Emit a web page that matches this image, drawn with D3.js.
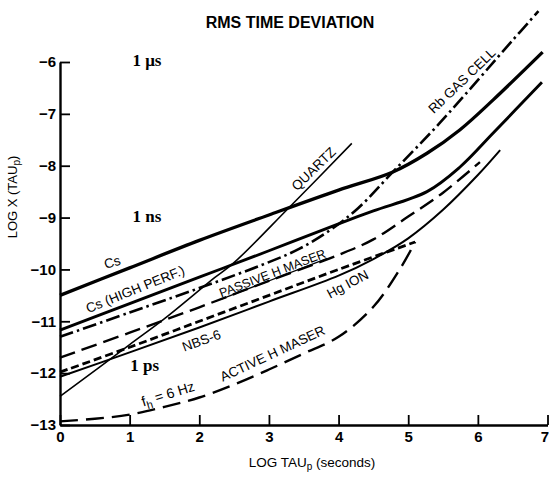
<!DOCTYPE html>
<html>
<head>
  <meta charset="utf-8">
  <title>RMS Time Deviation</title>
  <style>
    body { margin: 0; background: #fff; }
    text { font-family: "Liberation Sans", Arial, sans-serif; fill: #000; }
  </style>
</head>
<body>
<script src="https://cdnjs.cloudflare.com/ajax/libs/d3/7.8.5/d3.min.js"></script>
<div id="vis"></div>
<script>

// tick values
var xTicks = [0, 1, 2, 3, 4, 5, 6, 7];
var yTicks = [-13, -12, -11, -10, -9, -8, -7, -6];

// curves, [log tau, log x]
var cs = [[0,-10.5],[1,-9.97],[2,-9.44],[3,-8.95],[4,-8.47],[4.78,-8.12],[5.27,-7.76],[5.74,-7.31],[6.22,-6.73],[6.93,-5.81]];
var csHigh = [[0,-11.17],[1,-10.66],[2,-10.15],[3,-9.64],[4,-9.12],[4.5,-8.87],[5.27,-8.5],[5.74,-8.03],[6.22,-7.37],[6.92,-6.39]];
var rbGas = [[0,-11.3],[1,-10.83],[2,-10.36],[3,-9.86],[3.44,-9.6],[3.88,-9.24],[4.28,-8.82],[4.78,-8.12],[5.45,-7.18],[6.5,-5.58],[6.87,-5.02]];
var quartz = [[0,-12.45],[1,-11.45],[1.51,-10.94],[2.22,-10.16],[2.49,-9.88],[3.28,-8.82],[4.19,-7.57]];
var passiveH = [[0,-11.7],[1,-11.22],[2,-10.73],[3,-10.22],[4,-9.72],[4.5,-9.42],[5,-8.98],[5.5,-8.52],[6.03,-7.93]];
var nbs6 = [[0,-12.07],[1,-11.6],[2,-11.12],[3,-10.62],[4,-10.12],[4.5,-9.8],[5,-9.4],[5.5,-8.85],[6,-8.18],[6.32,-7.7]];
var hgIon = [[0,-11.98],[1,-11.5],[2,-11.0],[3,-10.5],[4,-10.0],[5.1,-9.47]];
var activeH = [[0,-12.93],[0.5,-12.88],[1,-12.8],[1.5,-12.65],[2,-12.47],[2.5,-12.22],[3,-11.93],[3.5,-11.62],[4,-11.3],[4.5,-10.72],[4.9,-9.95],[5.1,-9.47]];

var w = 549, h = 477;

var svg = d3.select("div#vis").append("svg")
  .attr("width", w)
  .attr("height", h);

var x = d3.scaleLinear().domain([0, 7]).range([60, 547.5]);
var y = d3.scaleLinear().domain([-13, -6]).range([425, 62]);

var minus = function(d) { return d < 0 ? "\u2212" + Math.abs(d) : d; };

// axes
var gx = svg.append("g")
  .attr("transform", "translate(0," + y(-13) + ")")
  .call(d3.axisBottom(x).tickValues(xTicks).tickSize(-10).tickPadding(6).tickSizeOuter(0).tickFormat(d3.format("d")));
var gy = svg.append("g")
  .attr("transform", "translate(" + x(0) + ",0)")
  .call(d3.axisLeft(y).tickValues(yTicks).tickSize(-10).tickPadding(4).tickSizeOuter(0).tickFormat(minus));

svg.selectAll(".domain").attr("stroke-width", 2.4);
svg.selectAll(".tick line").attr("stroke-width", 1.8);
svg.selectAll(".tick text")
  .style("font-family", "Liberation Sans, Arial, sans-serif")
  .style("font-size", "15px")
  .style("font-weight", "bold");
// last x label sits on the edge
gx.selectAll(".tick text").filter(function(d) { return d === 7; }).attr("dx", -3);

var line = d3.line()
  .x(function(d) { return x(d[0]); })
  .y(function(d) { return y(d[1]); })
  .curve(d3.curveCatmullRom.alpha(0.5));

var curves = [
  { pts: cs,       width: 3.3, dash: null },
  { pts: csHigh,   width: 2.9, dash: null },
  { pts: rbGas,    width: 2.6, dash: "14,4,2.5,4" },
  { pts: quartz,   width: 1.6, dash: null },
  { pts: passiveH, width: 2.4, dash: "16,7" },
  { pts: nbs6,     width: 2,   dash: null },
  { pts: hgIon,    width: 2.8, dash: "8,4" },
  { pts: activeH,  width: 2.4, dash: "18,8" }
];

svg.selectAll("path.curve").data(curves).enter().append("path")
  .attr("class", "curve")
  .attr("d", function(d) { return line(d.pts); })
  .attr("fill", "none")
  .attr("stroke", "#000")
  .attr("stroke-width", function(d) { return d.width; })
  .attr("stroke-dasharray", function(d) { return d.dash; });

// curve labels, placed in data coords
var labels = [
  { t: "Cs",               x: 0.75, y: -9.86,  r: -17, u: false, s: 13.5 },
  { t: "Cs (HIGH PERF.)",  x: 1.08, y: -10.38, r: -22, u: false, s: 13.5 },
  { t: "PASSIVE H MASER",  x: 3.05, y: -10.07, r: -21, u: true,  s: 12.5 },
  { t: "NBS-6",            x: 2.03, y: -11.37, r: -20, u: false, s: 13.5 },
  { t: "Hg ION",           x: 4.13, y: -10.28, r: -28, u: false, s: 13.5 },
  { t: "ACTIVE H MASER",   x: 3.05, y: -11.62, r: -25, u: false, s: 13.5 },
  { t: "QUARTZ",           x: 3.64, y: -8.06,  r: -44, u: false, s: 13.5 },
  { t: "Rb GAS CELL",      x: 5.77, y: -6.36,  r: -44, u: false, s: 13.5 }
];

svg.selectAll("text.lab").data(labels).enter().append("text")
  .attr("class", "lab")
  .attr("transform", function(d) {
    return "translate(" + x(d.x) + "," + y(d.y) + ") rotate(" + d.r + ")";
  })
  .attr("text-anchor", "middle")
  .attr("dy", "0.35em")
  .style("font-size", function(d) { return d.s + "px"; })
  .style("text-decoration", function(d) { return d.u ? "underline" : null; })
  .text(function(d) { return d.t; });

// f_h = 6 Hz
var fh = svg.append("text")
  .attr("transform", "translate(" + x(1.55) + "," + y(-12.4) + ") rotate(-17)")
  .attr("text-anchor", "middle")
  .attr("dy", "0.35em")
  .style("font-size", "14px");
fh.append("tspan").text("f");
fh.append("tspan").attr("dy", 4).style("font-size", "11px").text("h");
fh.append("tspan").attr("dy", -4).text(" = 6 Hz");

// magnitude marks
var marks = [
  { t: "1 \u03bcs", x: 1.04, y: -6.08 },
  { t: "1 ns", x: 1.04, y: -9.08 },
  { t: "1 ps", x: 1.01, y: -11.95 }
];
svg.selectAll("text.mag").data(marks).enter().append("text")
  .attr("class", "mag")
  .attr("x", function(d) { return x(d.x); })
  .attr("y", function(d) { return y(d.y); })
  .style("font-family", "Liberation Serif, serif")
  .style("font-size", "17px")
  .style("font-weight", "bold")
  .text(function(d) { return d.t; });

// title and axis titles
svg.append("text")
  .attr("x", 290).attr("y", 28)
  .attr("text-anchor", "middle")
  .style("font-size", "16px")
  .style("font-weight", "bold")
  .text("RMS TIME DEVIATION");

var xt = svg.append("text")
  .attr("x", 312).attr("y", 467)
  .attr("text-anchor", "middle")
  .style("font-size", "13.5px");
xt.append("tspan").text("LOG TAU");
xt.append("tspan").attr("dy", 3).style("font-size", "10px").text("p");
xt.append("tspan").attr("dy", -3).text("  (seconds)");

var yt = svg.append("text")
  .attr("transform", "translate(17,197) rotate(-90)")
  .attr("text-anchor", "middle")
  .style("font-size", "13px");
yt.append("tspan").text("LOG X (TAU");
yt.append("tspan").attr("dy", 3).style("font-size", "10px").text("p");
yt.append("tspan").attr("dy", -3).text(")");

</script>
</body>
</html>
